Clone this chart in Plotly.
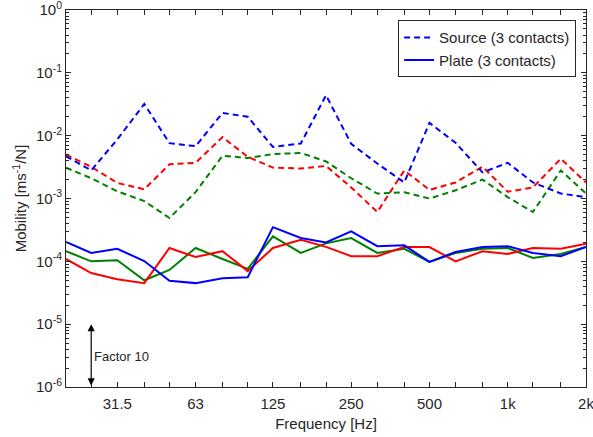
import plotly.graph_objects as go
import math

freqs = [20, 25, 31.5, 40, 50, 63, 80, 100, 125, 160, 200, 250, 315, 400, 500, 630, 800, 1000, 1250, 1600, 2000]

src_blue = [4.7e-3, 2.8e-3, 8.7e-3, 3.2e-2, 7.6e-3, 6.8e-3, 2.3e-2, 2.0e-2, 6.6e-3, 7.5e-3, 4.4e-2, 7.4e-3,
            3.6e-3, 1.8e-3, 1.6e-2, 7.7e-3, 2.6e-3, 3.7e-3, 1.8e-3, 1.2e-3, 1.05e-3]
src_red = [5.0e-3, 3.2e-3, 1.77e-3, 1.4e-3, 3.5e-3, 3.7e-3, 9.5e-3, 4.6e-3, 3.1e-3, 3.0e-3, 3.3e-3, 1.5e-3,
           6.1e-4, 2.8e-3, 1.37e-3, 1.8e-3, 3.2e-3, 1.28e-3, 1.5e-3, 4.3e-3, 1.8e-3]
src_green = [3.1e-3, 2.1e-3, 1.3e-3, 9.1e-4, 4.9e-4, 1.26e-3, 4.8e-3, 4.4e-3, 5.1e-3, 5.3e-3, 3.9e-3, 2.1e-3,
             1.2e-3, 1.26e-3, 1.0e-3, 1.35e-3, 2.0e-3, 1.05e-3, 6.1e-4, 2.8e-3, 1.2e-3]

plate_blue = [2.03e-4, 1.36e-4, 1.58e-4, 1.01e-4, 4.9e-5, 4.5e-5, 5.4e-5, 5.6e-5, 3.5e-4, 2.35e-4, 2.0e-4, 3.0e-4,
              1.74e-4, 1.8e-4, 9.8e-5, 1.41e-4, 1.69e-4, 1.74e-4, 1.36e-4, 1.21e-4, 1.69e-4]
plate_green = [1.45e-4, 1.0e-4, 1.04e-4, 5.0e-5, 7.3e-5, 1.63e-4, 1.09e-4, 7.6e-5, 2.5e-4, 1.36e-4, 1.93e-4, 2.35e-4,
               1.36e-4, 1.58e-4, 9.8e-5, 1.36e-4, 1.58e-4, 1.63e-4, 1.13e-4, 1.31e-4, 1.69e-4]
plate_red = [1.09e-4, 6.5e-5, 5.2e-5, 4.5e-5, 1.63e-4, 1.17e-4, 1.45e-4, 7.0e-5, 1.63e-4, 2.2e-4, 1.7e-4, 1.21e-4,
             1.21e-4, 1.69e-4, 1.69e-4, 1.0e-4, 1.45e-4, 1.31e-4, 1.63e-4, 1.58e-4, 1.9e-4]

x_labels = {31.5: "31.5", 63: "63", 125: "125", 250: "250", 500: "500", 1000: "1k", 2000: "2k"}
y_decades = [-6, -5, -4, -3, -2, -1, 0]

BLUE = "#0000FF"
RED = "#FF0000"
GREEN = "#008000"
INK = "#262626"
FONT = "Liberation Sans, Arial, sans-serif"
DASH = "6px,4px"

fig = go.Figure()

def add(y, color, dash, name=None, show=False):
    fig.add_trace(go.Scatter(
        x=freqs, y=y, mode="lines", name=name, showlegend=show,
        line=dict(color=color, width=2, dash=dash),
    ))

add(src_green, GREEN, DASH)
add(src_red, RED, DASH)
add(plate_green, GREEN, "solid")
add(plate_red, RED, "solid")
add(src_blue, BLUE, DASH, "Source (3 contacts)", True)
add(plate_blue, BLUE, "solid", "Plate (3 contacts)", True)

minor_vals = [m * 10.0 ** d for d in y_decades[:-1] for m in range(2, 10)]

fig.update_xaxes(
    type="log", range=[math.log10(20), math.log10(2000)],
    tickvals=freqs[1:],
    ticktext=[x_labels.get(f, "") for f in freqs[1:]],
    ticks="inside", ticklen=5, tickwidth=1, tickcolor=INK,
    showline=True, linecolor=INK, linewidth=1, mirror="allticks",
    showgrid=False, zeroline=False, automargin=False, ticklabeloverflow="allow",
    ticklabelstandoff=3,
    tickfont=dict(family=FONT, size=15, color=INK),
    title=dict(text="Frequency [Hz]", font=dict(family=FONT, size=15, color=INK), standoff=7),
)
fig.update_yaxes(
    type="log", range=[-6, 0],
    tickvals=[10.0 ** d for d in y_decades],
    ticktext=["10<sup>%d</sup>" % d for d in y_decades],
    ticks="inside", ticklen=5, tickwidth=1, tickcolor=INK,
    minor=dict(tickvals=minor_vals, ticks="inside", ticklen=3, tickcolor=INK, showgrid=False),
    showline=True, linecolor=INK, linewidth=1, mirror="allticks",
    showgrid=False, zeroline=False, automargin=False, ticklabeloverflow="allow",
    tickfont=dict(family=FONT, size=15, color=INK),
    title=dict(text="Mobility [ms<sup>-1</sup>/N]", font=dict(family=FONT, size=15, color=INK), standoff=5),
)

# "Factor 10" double arrow between 1e-6 and 1e-5 at 25 Hz
fig.add_annotation(
    x=math.log10(25), y=-5, ax=math.log10(25), ay=-6,
    xref="x", yref="y", axref="x", ayref="y",
    showarrow=True, arrowhead=2, arrowside="end+start", arrowsize=1.2, arrowwidth=1.2,
    arrowcolor="black", text="",
)
fig.add_annotation(
    x=math.log10(25), y=-5.52, xref="x", yref="y", text="Factor 10",
    showarrow=False, xanchor="left", xshift=1,
    font=dict(family=FONT, size=13, color=INK),
)

fig.update_layout(
    width=593, height=437,
    margin=dict(l=66, r=7, t=10, b=50),
    paper_bgcolor="white", plot_bgcolor="white",
    font=dict(family=FONT, color=INK),
    legend=dict(
        x=0.981, y=0.973, xanchor="right", yanchor="top",
        bgcolor="white", bordercolor=INK, borderwidth=1,
        font=dict(family=FONT, size=15, color=INK),
        tracegroupgap=0, itemwidth=30,
    ),
)

fig.write_html("out.html")
